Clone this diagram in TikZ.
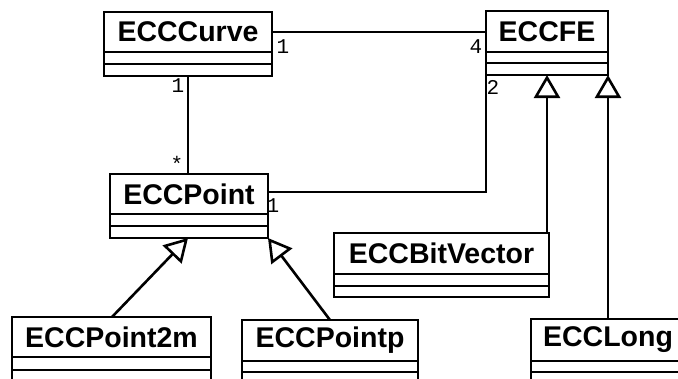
\documentclass[tikz,border=0pt]{standalone}
\usepackage{fontspec}
\setmainfont{Liberation Sans}
\newfontfamily\monof{Liberation Mono}
\usetikzlibrary{arrows.meta}
\tikzset{
  clsbox/.style={draw, line width=2.6pt, inner sep=0pt, outer sep=0pt},
  clstitle/.style={inner sep=0pt, font=\fontsize{28.5}{30}\selectfont\bfseries},
  mult/.style={inner sep=0pt, font=\monof\fontsize{21}{22}\selectfont},
  conn/.style={line width=2.6pt},
  gen/.style={line width=2.6pt, -{Triangle[open, length=23pt, width=26pt, line width=2.6pt]}}
}
% #1 name, #2 x1, #3 x2, #4 top, #5 divider1, #6 divider2, #7 bottom, #8 text
\newcommand\umlcls[8]{%
  \node[clsbox, minimum width={#3-#2}, minimum height={#7-#4}, anchor=north west] (#1) at (#2,#4) {};
  \node[clstitle] (#1-t) at ({(#2+#3)/2},{(#4+#5)/2}) {#8};
  \draw[line width=2.6pt] (#2,#5) -- (#3,#5) (#2,#6) -- (#3,#6);
}
\begin{document}
\begin{tikzpicture}[x=1pt,y=-1pt]
\useasboundingbox (0,0) rectangle (678,378);
\clip (0,0) rectangle (678,378);
\umlcls{curve}{104}{272}{12}{52}{64}{76}{ECCCurve}
\umlcls{fe}{486}{608}{11}{52}{63}{75}{ECCFE}
\umlcls{point}{110}{268}{174}{214}{226}{238}{ECCPoint}
\umlcls{bv}{334}{549}{233}{274}{286}{297}{ECCBitVector}
\umlcls{ptm}{12}{211}{317}{357}{370}{382}{ECCPoint2m}
\umlcls{ptp}{242}{418}{320}{361}{372}{384}{ECCPointp}
\umlcls{long}{531}{685}{319}{361}{372}{384}{ECCLong}
% associations
\draw[conn] (curve.east |- 0,32) -- (fe.west |- 0,32);
\draw[conn] (curve.south -| 188,0) -- (point.north -| 188,0);
\draw[conn] (point.east |- 0,192) -| (fe.south west);
% generalizations
\draw[gen] (bv.north -| 547,0) -- (fe.south -| 547,0);
\draw[gen] (long.north -| fe.south east) -- (fe.south east);
\draw[gen] (ptm.north -| 112,0) -- (point.south -| 188,0);
\draw[gen] (ptp.north -| 330,0) -- (point.south east);
% multiplicities
\node[mult] (m1) at (283,47) {1};
\node[mult] (m2) at (476,47) {4};
\node[mult] (m3) at (493,87) {2};
\node[mult] (m4) at (178,86) {1};
\node[mult] (m5) at (177,164) {*};
\node[mult] (m6) at (273,206) {1};
\end{tikzpicture}
\end{document}
